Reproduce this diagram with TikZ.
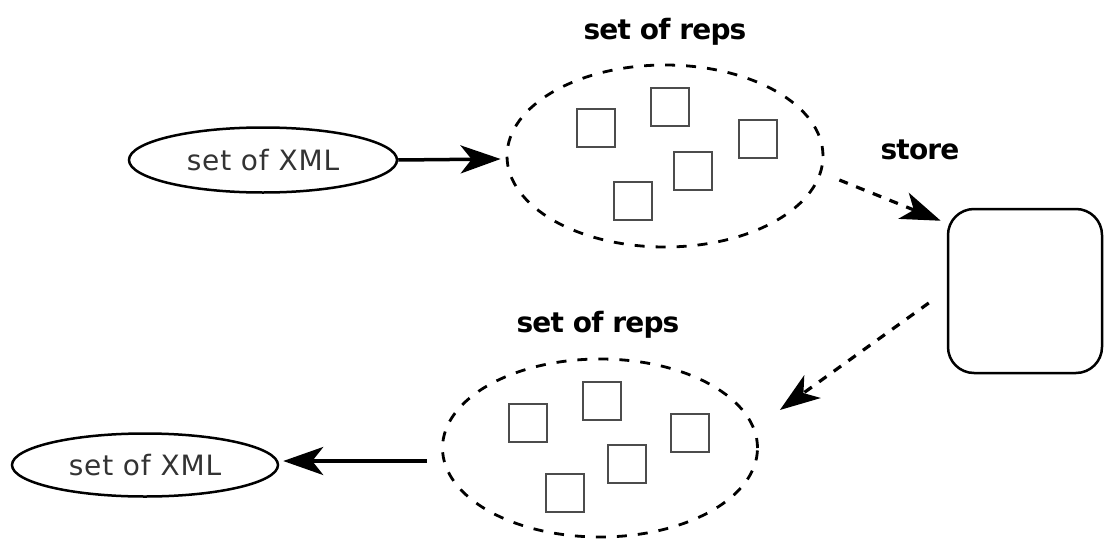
\documentclass[tikz,border=0pt]{standalone}
\usepackage{fontspec}
\setmainfont{DejaVu Sans}
\usetikzlibrary{shapes.geometric,arrows.meta}
\tikzset{
  xmlnode/.style={ellipse,draw=black,line width=2.5pt,inner sep=0pt,minimum width=268pt,minimum height=65pt,
    font=\fontsize{28}{30}\selectfont\addfontfeature{LetterSpace=3},text=black!80},
  repset/.style={ellipse,draw=black,line width=2.8pt,dash pattern=on 10pt off 11pt,inner sep=0pt,minimum width=316pt,minimum height=182pt},
  rep/.style={rectangle,draw=black!70,line width=2.5pt,minimum size=38pt,inner sep=0pt},
  lbl/.style={font=\fontsize{28}{30}\selectfont\bfseries\addfontfeature{LetterSpace=-3},inner sep=0pt},
  storebox/.style={rectangle,draw=black,line width=2.5pt,rounded corners=26pt,minimum width=154pt,minimum height=164pt},
  tip/.style={-{Stealth[length=40pt,width=28pt,inset=11pt]}},
  solidarrow/.style={tip,line width=3.5pt},
  dasharrow/.style={tip,line width=3.2pt,dash pattern=on 9pt off 9pt},
}
\begin{document}
\begin{tikzpicture}[x=1pt,y=-1pt]
\useasboundingbox (0,0) rectangle (1104,541);
% nodes
\node[xmlnode] (xml1) at (263,160) {set of XML};
\node[xmlnode,minimum width=266pt,minimum height=63pt] (xml2) at (145,465) {set of XML};
\node[repset] (reps1) at (665,156) {};
\node[repset,minimum width=315pt,minimum height=178pt] (reps2) at (600,448) {};
\node[storebox] (store) at (1025,291) {};
\node[lbl] (lab1) at (665,32) {set of reps};
\node[lbl] (lab2) at (598,325) {set of reps};
\node[lbl] (lab3) at (920,150) {store};
% reps top
\node[rep] (a1) at (596,128) {};
\node[rep] (a2) at (670,107) {};
\node[rep] (a3) at (758,139) {};
\node[rep] (a4) at (693,171) {};
\node[rep] (a5) at (633,201) {};
% reps bottom
\node[rep] (b1) at (528,423) {};
\node[rep] (b2) at (602,401) {};
\node[rep] (b3) at (690,433) {};
\node[rep] (b4) at (627,464) {};
\node[rep] (b5) at (565,493) {};
% connectors
\draw[solidarrow] (xml1.east) -- ([shift={(-5,3)}]reps1.west);
\draw[dasharrow] ([shift={(15,24)}]reps1.east) -- ([shift={(-6,13)}]store.north west);
\draw[dasharrow] ([shift={(-18,12)}]store.west) -- ([shift={(21,-38)}]reps2.east);
\draw[solidarrow] ([shift={(-14,13)}]reps2.west) -- ([shift={(4,-4)}]xml2.east);
\end{tikzpicture}
\end{document}
